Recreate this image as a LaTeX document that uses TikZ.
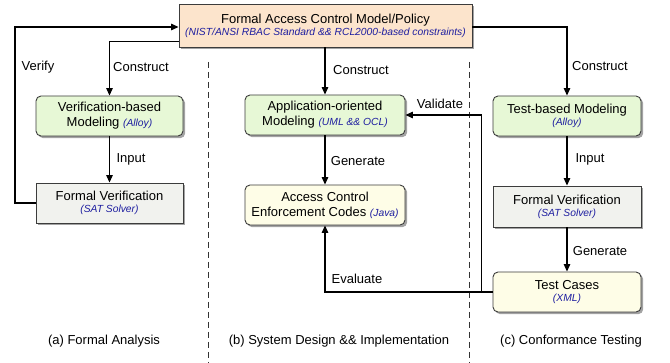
\documentclass[tikz,border=0pt]{standalone}
\usepackage{fontspec}
\setmainfont{Liberation Sans}
\usetikzlibrary{arrows.meta,shadows}
\definecolor{orangefill}{HTML}{FCE4CC}
\definecolor{greenfill}{HTML}{E7F8D6}
\definecolor{grayfill}{HTML}{F1F2EE}
\definecolor{yellowfill}{HTML}{FEFDE7}
\definecolor{subblue}{HTML}{1E1EA0}
\definecolor{edgegray}{HTML}{3C3C3C}
\newcommand{\subt}[1]{{\fontsize{10.3}{11}\selectfont\itshape\color{subblue}#1}}
\tikzset{
  box/.style={draw=edgegray, line width=0.9pt, align=center, inner sep=0pt,
    font=\fontsize{13}{15}\selectfont,
    drop shadow={shadow xshift=2.2pt, shadow yshift=-2.2pt, fill=black!60, opacity=0.6}},
  rbox/.style={box, rounded corners=5pt},
  arr/.style={-{Triangle[length=7.5pt,width=6.5pt]}, line width=1.2pt},
  lab/.style={font=\fontsize{13}{14}\selectfont, inner sep=0pt},
  sep/.style={dashed, dash pattern=on 6pt off 4pt, line width=0.7pt, draw=black!80}
}
\begin{document}
\begin{tikzpicture}[x=1pt,y=-1pt]
\useasboundingbox (0,0) rectangle (670,363);
% dashed separators
\draw[sep] (208,62) -- (208,363);
\draw[sep] (469,62) -- (469,363);
% nodes
\node[box, fill=orangefill, minimum width=293pt, minimum height=43pt] (top) at (325.5,25.5)
  {Formal Access Control Model/Policy\\[-3pt]\subt{(NIST/ANSI RBAC Standard \&\& RCL2000-based constraints)}};
\node[rbox, fill=greenfill, minimum width=147pt, minimum height=40pt] (vm) at (109.5,116)
  {Verification-based\\Modeling \subt{(Alloy)}};
\node[box, fill=grayfill, minimum width=147pt, minimum height=40pt] (fvl) at (109.5,203)
  {Formal Verification\\[-3pt]\subt{(SAT Solver)}};
\node[rbox, fill=greenfill, minimum width=160pt, minimum height=40pt] (app) at (325,115)
  {Application-oriented\\Modeling \subt{(UML \&\& OCL)}};
\node[rbox, fill=yellowfill, minimum width=160pt, minimum height=40pt] (ace) at (325,205)
  {Access Control\\Enforcement Codes \subt{(Java)}};
\node[rbox, fill=greenfill, minimum width=148pt, minimum height=40pt] (tbm) at (567,116)
  {Test-based Modeling\\[-3pt]\subt{(Alloy)}};
\node[box, fill=grayfill, minimum width=148pt, minimum height=41pt] (fvr) at (567,206.5)
  {Formal Verification\\[-3pt]\subt{(SAT Solver)}};
\node[rbox, fill=yellowfill, minimum width=148pt, minimum height=40pt] (tc) at (567,292)
  {Test Cases\\[-3pt]\subt{(XML)}};
% connectors
\coordinate (vc) at (15,27);
\draw[arr] (fvl.west) -| (vc) -- (vc -| top.west);
\draw[arr] ([yshift=-16pt]top.west) -| (vm.north);
\draw[arr] ([yshift=-1.5pt]top.east) -| (tbm.north);
\draw[arr] (app.north |- top.south) -- (app.north);
\draw[arr] (vm.south) -- (fvl.north);
\draw[arr] (app.south) -- (ace.north);
\draw[arr] (tbm.south) -- (fvr.north);
\draw[arr] (fvr.south) -- (tc.north);
\draw[arr] (tc.west) -| (ace.south);
\draw[arr] (tc.west) -- ++(-11,0) |- (app.east);
% labels
\node[lab] (l1) at (38,67) {Verify};
\node[lab] (l2) at (141,67) {Construct};
\node[lab] (l3) at (361,70) {Construct};
\node[lab] (l4) at (600,66) {Construct};
\node[lab] (l5) at (131,159) {Input};
\node[lab] (l6) at (358,161) {Generate};
\node[lab] (l7) at (590,159) {Input};
\node[lab] (l8) at (600,251) {Generate};
\node[lab] (l9) at (440,104) {Validate};
\node[lab] (l10) at (357,279) {Evaluate};
\node[lab] (c1) at (104,341) {(a) Formal Analysis};
\node[lab] (c2) at (339,341) {(b) System Design \&\& Implementation};
\node[lab] (c3) at (571,341) {(c) Conformance Testing};
\end{tikzpicture}
\end{document}
